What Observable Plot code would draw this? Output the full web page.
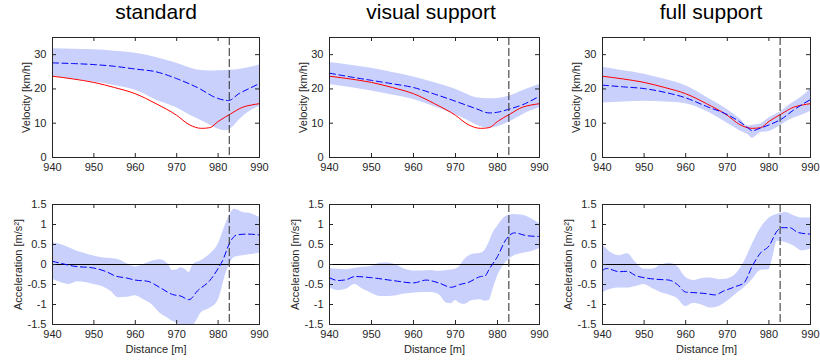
<!DOCTYPE html>
<html><head><meta charset="utf-8">
<script src="https://cdn.jsdelivr.net/npm/d3@7"></script>
<script src="https://cdn.jsdelivr.net/npm/@observablehq/plot@0.6"></script>
<style>
body{margin:0;background:#fff;}
#root{position:relative;width:820px;height:364px;overflow:hidden;font-family:"Liberation Sans",Arial,Helvetica,sans-serif;}
.title{position:absolute;top:0px;font-size:21px;line-height:normal;color:#000;transform:translateX(-50%);white-space:nowrap;}
.panel{position:absolute;}
.panel svg{overflow:visible;}
</style></head><body><div id="root"></div>
<script>
const conditions = ["standard", "visual support", "full support"];
const distanceTicks = [940, 950, 960, 970, 980, 990];
const velocityTicks = [0, 10, 20, 30];
const accelerationTicks = [-1.5, -1, -0.5, 0, 0.5, 1, 1.5];
const markerDistance = 982.7;

// actual (red) velocity, same in all panels: [distance, km/h]
const actualVelocity = [[940,23.7],[945,22.9],[950,21.9],[955,20.4],[960,18.6],[965,15.7],[970,12.3],[973,9.6],[976,8.5],[978,8.7],[980,10.5],[983,12.7],[986,14.7],[988,15.3],[990,15.7]];

// mean velocity (blue dashed): [distance, km/h]
const velMeanStandard = [[940,27.6],[945,27.4],[950,27.1],[955,26.6],[960,25.8],[965,25],[970,23],[975,20.4],[980,17.2],[982.5,16.6],[985,18.6],[988,20.4],[990,21.6]];
const velMeanVisual = [[940,24.6],[945,23.5],[950,22.5],[955,21.5],[960,20.4],[965,18.5],[970,16.4],[975,14.2],[978,13],[980,13.2],[983,14.2],[986,15.4],[990,17.9]];
const velMeanFull = [[940,21.1],[945,20.6],[950,20.1],[955,19],[960,17.4],[965,14.9],[970,12.5],[973,10.4],[975,8.6],[976,7.8],[978,8.6],[980,9.5],[983,11.2],[986,13.9],[990,16.9]];

// velocity band: [distance, lower, upper]
const velBandStandard = [[940,23.6,31.7],[945,22.8,31.6],[950,22,31.4],[955,21,31],[960,19.6,30.4],[965,16.8,29.2],[970,14.5,27.5],[973,12.5,26.2],[975,11.3,25.5],[978,9.5,25.2],[980,8.3,25.3],[982,7.8,25.4],[983.5,8.8,25.5],[985,10.8,25.7],[988,13.7,26.3],[990,14.9,27]];
const velBandVisual = [[940,21.3,27.7],[945,20.4,26.9],[950,19.4,26],[955,18.2,24.8],[960,16.9,23.5],[965,14.8,21.8],[970,12.5,19.9],[973,10.8,18.3],[975,9.5,17.4],[978,8.6,17.1],[980,9,17.2],[983,10.5,18],[986,12.5,19.5],[988,13.6,20.4],[990,14.5,21.3]];
const velBandFull = [[940,15.9,26.3],[945,16.2,25.3],[950,16.4,24.3],[955,16.2,22.8],[960,15.7,20.9],[965,13.5,17.6],[970,10,14],[973,7.8,11.3],[975,6.6,9.2],[976,5.6,9.4],[978,7.3,9.8],[980,7.6,11.5],[983,9.5,13.5],[985,11,15.4],[988,12.4,17.8],[990,13.5,20]];

// mean acceleration (blue dashed): [distance, m/s^2]
const accMeanStandard = [[940,0.08],[942,0.03],[945,-0.04],[950,-0.09],[953,-0.18],[955,-0.28],[958,-0.34],[960,-0.39],[963,-0.42],[966,-0.58],[969,-0.75],[971,-0.79],[973,-0.88],[975,-0.66],[978,-0.4],[980,-0.1],[981,0.08],[983,0.58],[984.5,0.74],[987,0.76],[990,0.74]];
const accMeanVisual = [[940,-0.33],[942,-0.4],[944,-0.38],[946,-0.3],[950,-0.33],[955,-0.4],[960,-0.46],[963,-0.39],[966,-0.46],[969,-0.57],[971,-0.5],[973,-0.45],[976,-0.3],[977,-0.29],[978,-0.12],[980,0.2],[982,0.62],[984,0.79],[987,0.72],[990,0.7]];
const accMeanFull = [[940,-0.15],[941,-0.1],[944,-0.18],[946,-0.17],[948,-0.28],[950,-0.33],[953,-0.37],[956,-0.39],[958,-0.5],[960,-0.69],[963,-0.71],[965,-0.73],[967,-0.76],[969,-0.67],[972,-0.55],[974,-0.46],[976,-0.04],[978,0.29],[980,0.46],[982,0.84],[983,0.92],[985,0.92],[987,0.8],[990,0.76]];

// acceleration band: [distance, lower, upper]
const accBandStandard = [[940,-0.37,0.55],[942,-0.45,0.5],[944,-0.5,0.42],[946,-0.43,0.33],[948,-0.45,0.27],[950,-0.5,0.21],[952,-0.55,0.17],[954,-0.66,0.15],[956,-0.83,0.12],[958,-0.82,0.02],[960,-0.78,-0.06],[962,-0.88,0],[964,-1,0.08],[966,-1.22,0.12],[968,-1.35,0],[969,-1.42,-0.15],[970,-1.46,-0.14],[971,-1.52,-0.08],[972,-1.55,-0.12],[973,-1.55,-0.2],[974,-1.52,0],[976,-1.2,0.1],[978,-1.1,0.25],[980,-0.9,0.5],[982,-0.2,1.05],[984,0.18,1.38],[986,0.22,1.3],[988,0.25,1.27],[990,0.28,1.18]];
const accBandVisual = [[940,-0.58,-0.1],[942,-0.65,-0.12],[944,-0.62,-0.13],[946,-0.5,-0.1],[948,-0.62,-0.07],[950,-0.72,-0.05],[952,-0.8,0.03],[954,-0.8,0.04],[956,-0.78,-0.02],[958,-0.74,-0.12],[960,-0.72,-0.16],[962,-0.7,-0.16],[964,-0.7,-0.15],[966,-0.75,-0.17],[968,-0.97,-0.15],[969,-0.98,-0.14],[970,-0.9,-0.12],[971,-0.97,-0.05],[972,-1,0.1],[974,-0.9,0.25],[976,-0.88,0.28],[977,-0.92,0.35],[978,-0.9,0.55],[979,-0.6,0.8],[980,-0.3,0.95],[982,0.05,1.2],[984,0.22,1.25],[986,0.28,1.23],[988,0.32,1.15],[990,0.4,1.02]];
const accBandFull = [[940,-0.71,0.5],[942,-0.62,0.3],[944,-0.59,0.22],[946,-0.59,0.27],[948,-0.55,0.05],[950,-0.5,-0.12],[952,-0.6,-0.12],[954,-0.7,-0.02],[956,-0.76,0.03],[958,-0.85,-0.05],[960,-1.05,-0.32],[962,-0.97,-0.4],[964,-1.02,-0.35],[966,-1.09,-0.34],[968,-1.05,-0.38],[970,-0.92,-0.36],[972,-0.75,-0.25],[974,-0.59,0.05],[976,-0.38,0.5],[978,-0.15,0.9],[980,-0.13,1.15],[981,0.2,1.22],[982,0.58,1.25],[984,0.55,1.3],[986,0.46,1.22],[988,0.34,1.16],[990,0.38,1.16]];

const velMeans = [velMeanStandard, velMeanVisual, velMeanFull];
const velBands = [velBandStandard, velBandVisual, velBandFull];
const accMeans = [accMeanStandard, accMeanVisual, accMeanFull];
const accBands = [accBandStandard, accBandVisual, accBandFull];

const cols = [{L:52, R:259, c:156}, {L:329, R:539, c:431}, {L:602, R:810, c:711}];
const rows = [{T:37, B:157}, {T:204, B:324}];
const root = document.getElementById("root");
const axisColor = "#262626";

function panel(col, row, opts) {
  const mL = 50, mR = 10, mT = 6, mB = 34;
  const w = col.R - col.L, h = row.B - row.T;
  const X = d => d[0];
  const marks = [
    Plot.areaY(opts.band, {x: X, y1: d => d[1], y2: d => d[2], fill: "#c8d0fb", curve: "monotone-x", clip: true})
  ];
  if (opts.zero) marks.push(Plot.ruleY([0], {stroke: "#000", strokeWidth: 1}));
  if (opts.red) marks.push(Plot.line(opts.red, {x: X, y: d => d[1], stroke: "#ff0000", strokeWidth: 1, curve: "monotone-x"}));
  marks.push(Plot.line(opts.mean, {x: X, y: d => d[1], stroke: "#0000ff", strokeWidth: 1, strokeDasharray: "6,3.5", curve: "monotone-x", clip: true}));
  marks.push(Plot.ruleX([markerDistance], {x: d => d, stroke: "#3c3c3c", strokeWidth: 1.1, strokeDasharray: "8,3"}));
  marks.push(
    Plot.tickX(distanceTicks, {x: d => d, insetTop: h - 4, stroke: axisColor}),
    Plot.tickX(distanceTicks, {x: d => d, insetBottom: h - 4, stroke: axisColor}),
    Plot.tickY(opts.ticks, {y: d => d, insetRight: w - 4, stroke: axisColor}),
    Plot.tickY(opts.ticks, {y: d => d, insetLeft: w - 4, stroke: axisColor}),
    Plot.axisX({ticks: distanceTicks, tickSize: 0, tickPadding: 6, label: null, fontSize: 11, tickFormat: d => String(d)}),
    Plot.axisY({ticks: opts.ticks, tickSize: 0, tickPadding: 6, label: null, fontSize: 11, tickFormat: d => String(d)}),
    Plot.text([opts.ylabel], {text: d => d, frameAnchor: "left", rotate: -90, dx: opts.ldx, textAnchor: "middle", lineAnchor: "middle", fontSize: 11, fill: axisColor}),
    Plot.frame({stroke: axisColor, strokeWidth: 1})
  );
  if (opts.xlabel) marks.push(Plot.text([opts.xlabel], {text: d => d, frameAnchor: "bottom", dy: 25, textAnchor: "middle", lineAnchor: "middle", fontSize: 11, fill: axisColor}));
  const chart = Plot.plot({
    width: w + mL + mR, height: h + mT + mB,
    marginLeft: mL, marginRight: mR, marginTop: mT, marginBottom: mB,
    x: {domain: [940, 990]},
    y: {domain: opts.domain},
    style: {fontFamily: '"Liberation Sans", Arial, Helvetica, sans-serif', fontSize: "11px", color: axisColor, background: "transparent", overflow: "visible"},
    marks
  });
  const div = document.createElement("div");
  div.className = "panel";
  div.style.left = (col.L - mL) + "px";
  div.style.top = (row.T - mT) + "px";
  div.appendChild(chart);
  root.appendChild(div);
}

conditions.forEach((name, i) => {
  const col = cols[i];
  const t = document.createElement("div");
  t.className = "title";
  t.style.left = col.c + "px";
  t.textContent = name;
  root.appendChild(t);
  panel(col, rows[0], {band: velBands[i], mean: velMeans[i], red: actualVelocity, ticks: velocityTicks, domain: [0, 35], ylabel: "Velocity [km/h]", ldx: -26});
  panel(col, rows[1], {band: accBands[i], mean: accMeans[i], zero: true, ticks: accelerationTicks, domain: [-1.5, 1.5], ylabel: "Acceleration [m/s²]", ldx: -34, xlabel: "Distance [m]"});
});
</script>
</body></html>
